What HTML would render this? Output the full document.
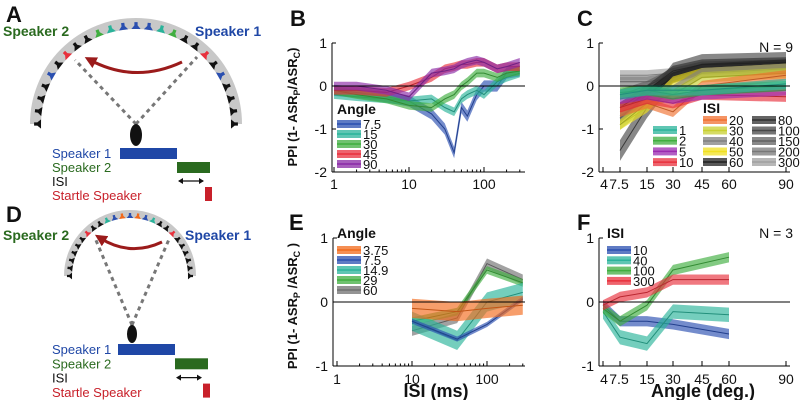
<!DOCTYPE html>
<html><head><meta charset="utf-8">
<style>
html,body{margin:0;padding:0;background:#fff;}
svg{display:block;font-family:"Liberation Sans","DejaVu Sans",sans-serif;}
</style></head>
<body>
<svg id="fig" width="800" height="400" viewBox="0 0 800 400" xmlns="http://www.w3.org/2000/svg">
<defs><marker id="ah" viewBox="0 0 10 10" refX="5" refY="5" markerWidth="4" markerHeight="4" orient="auto-start-reverse"><path d="M0,0 L10,5 L0,10 z" fill="#9b1b1b"/></marker></defs>
</svg>
<script>
// ---------- DATA ----------
const isiB = [1,2,5,10,20,30,40,50,60,80,100,150,200,300];
const angB = ["7.5","15","30","45","90"];
const b75 = [-0.1,-0.15,-0.25,-0.35,-0.65,-1.0,-1.55,-0.5,-0.7,-0.2,0.0,0.0,0.3,0.35];
const b15 = [-0.2,-0.25,-0.3,-0.35,-0.3,-0.5,-0.6,-0.3,-0.2,-0.1,-0.2,0.1,0.2,0.3];
const b30 = [-0.1,-0.2,-0.3,-0.45,-0.5,-0.3,-0.2,0.0,0.1,0.3,0.3,0.2,0.3,0.35];
const b45 = [-0.1,-0.1,-0.15,0.0,0.2,0.4,0.45,0.5,0.5,0.55,0.55,0.4,0.45,0.45];
const b90 = [0.0,0.0,-0.1,-0.25,0.3,0.35,0.4,0.5,0.55,0.6,0.55,0.4,0.45,0.55];
const errB = 0.1;

const angC = [7.5,15,30,45,90];
const isiC = ["1","2","5","10","20","30","40","50","60","80","100","150","200","300"];
const c1=[-0.2,-0.1,-0.1,-0.1,0.05], c2=[-0.15,-0.1,-0.2,-0.1,0], c5=[-0.3,-0.2,-0.3,-0.2,-0.1], c10=[-0.5,-0.3,-0.4,-0.2,-0.25];
const c20=[-0.6,-0.4,-0.6,0.0,0.25], c30=[-0.9,-0.4,-0.2,0.2,0.3], c40=[-0.7,-0.3,-0.1,0.3,0.4], c50=[-0.9,-0.5,0.1,0.3,0.4];
const c60=[-0.75,-0.2,0.2,0.4,0.5], c80=[-0.5,-0.1,0.35,0.5,0.55], c100=[-1.5,-0.5,0.3,0.5,0.55], c150=[-0.2,0.0,0.3,0.45,0.5];
const c200=[0.1,0.1,0.2,0.4,0.45], c300=[0.25,0.25,0.3,0.45,0.5];
const errC = 0.12;

const isiE = [10,40,100,300];
const angE = ["3.75","7.5","14.9","29","60"];
const e375=[-0.1,-0.15,-0.1,-0.05], e75=[-0.3,-0.58,-0.35,0.05], e149=[-0.3,-0.6,0.0,0.15], e29=[-0.3,-0.15,0.5,0.3], e60=[-0.45,-0.25,0.6,0.35];
const errE = [0.15,0.04,0.15,0.06,0.08];

const angF = [4,7.5,15,30,60];
const isiF = ["10","40","100","300"];
const f10=[-0.05,-0.3,-0.3,-0.35,-0.5], f40=[-0.15,-0.55,-0.65,-0.15,-0.2], f100=[-0.1,-0.3,-0.05,0.5,0.7], f300=[-0.05,0.08,0.15,0.35,0.35];
const errF = 0.08;

const angTicks = [4,7.5,15,30,45,60,90];
const angTickLabels = ["4","7.5","15","30","45","60","90"];

// ---------- helpers ----------
const NS="http://www.w3.org/2000/svg";
const svg=document.getElementById('fig');
function el(tag, parent){const e=document.createElementNS(NS,tag);(parent||svg).appendChild(e);return e;}
function txt(parent,x,y,s,size,opts){const t=el('text',parent);t.setAttribute('x',x);t.setAttribute('y',y);t.setAttribute('font-size',size);
 if(opts&&opts.bold)t.setAttribute('font-weight','bold'); if(opts&&opts.anchor)t.setAttribute('text-anchor',opts.anchor);
 t.setAttribute('fill',(opts&&opts.fill)||'#111'); t.textContent=s; return t;}
function logAx(x0,perDec){return v=>x0+Math.log10(v)*perDec;}
const angPx=[603,620,647,673,702,729,786];
function angAx(v){for(let i=0;i<angTicks.length-1;i++){if(v<=angTicks[i+1]){const a=angTicks[i],b=angTicks[i+1];return angPx[i]+(v-a)/(b-a)*(angPx[i+1]-angPx[i]);}}return angPx[angPx.length-1];}
function linY(y0,per){return v=>y0-v*per;}

function series(g,xs,ys,err,X,Y,color,name){
  const gg=el('g',g);
  
  
  const up=xs.map((x,i)=>X(x)+','+Y(ys[i]+err)), lo=xs.map((x,i)=>X(x)+','+Y(ys[i]-err)).reverse();
  const p=el('polygon',gg);
  
  
  p.setAttribute('points',up.concat(lo).join(' '));p.setAttribute('fill',color);p.setAttribute('fill-opacity','0.65');
  const l=el('polyline',gg);
  
  
  l.setAttribute('points',xs.map((x,i)=>X(x)+','+Y(ys[i])).join(' '));l.setAttribute('fill','none');l.setAttribute('stroke',color);l.setAttribute('stroke-width','1');
  l.setAttribute('style','filter:brightness(0.8)');
}
function line(g,x1,y1,x2,y2,c,w){const l=el('line',g);l.setAttribute('x1',x1);l.setAttribute('y1',y1);l.setAttribute('x2',x2);l.setAttribute('y2',y2);l.setAttribute('stroke',c||'#000');l.setAttribute('stroke-width',w||1);return l;}
function legend(g,x,y,color,label){
  const r=el('rect',g);
  
  
  r.setAttribute('x',x);r.setAttribute('y',y-4);r.setAttribute('width',24);r.setAttribute('height',8);r.setAttribute('fill',color);r.setAttribute('fill-opacity','0.75');
  line(g,x,y,x+24,y,color,1.5);
  const t=txt(g,x+26,y+5,label,13);
  
  
}
function yAxis(g,x,Y,vals){
  line(g,x,Y(vals[vals.length-1]),x,Y(vals[0]));
  vals.forEach(v=>{line(g,x,Y(v),x+4,Y(v));txt(g,x-5,Y(v)+5,String(v),14,{anchor:'end'});});
}
function yTitle(g,cx,cy,name,sp){
  const yt=txt(g,0,0,'',13,{bold:true});yt.setAttribute('transform',`translate(${cx},${cy}) rotate(-90)`);yt.setAttribute('text-anchor','middle');
  
  
  yt.innerHTML='PPI (1- ASR<tspan font-size="9" dy="3">P</tspan><tspan dy="-3">'+sp+'/ASR</tspan><tspan font-size="9" dy="3">C</tspan><tspan dy="-3">'+sp+')</tspan>';
}

const BLUE='#2a4fb0',TEAL='#2ab39a',GREEN='#3fae3f',RED='#e8303c',PURPLE='#8a2aa6',ORANGE='#f26a1b',GRAY='#707070';

// ---------- Panel B ----------
(function(){
const g=el('g');


const X=logAx(334,75), Y=linY(86,43);
const pd=[[b75,BLUE,'7.5'],[b15,TEAL,'15'],[b30,GREEN,'30'],[b45,RED,'45'],[b90,PURPLE,'90']];
pd.forEach((d,i)=>series(g,isiB,d[0],errB*(i==0?1.3:1),X,Y,d[1],'series-angle-'+d[2]));
line(g,332,Y(0),525,Y(0));
yAxis(g,332,Y,[1,0,-1,-2]);
line(g,332,172,525,172);
[1,10,100].forEach(v=>{line(g,X(v),172,X(v),167);txt(g,X(v),189,String(v),14,{anchor:'middle'});});
for(let d=1;d<=100;d*=10)for(let k=2;k<=9;k++){const v=d*k;if(v<=300)line(g,X(v),172,X(v),169.5);}
const lt=txt(g,337,114,'Angle',14,{bold:true});


pd.forEach((d,i)=>legend(g,337,124+i*10,d[1],angB[i]));
txt(g,290,26,'B',22,{bold:true});
yTitle(g,297,107,'y-axis-title-b','');
})();

// ---------- Panel C ----------
(function(){
const g=el('g');


const Y=linY(86,43);
const cols=[TEAL,GREEN,'#9a2ab0',RED,'#f07030','#c8d030','#808080','#f0e020','#202020','#303030','#484848','#606060','#787878','#a0a0a0'];
const vals=[c1,c2,c5,c10,c20,c30,c40,c50,c60,c80,c100,c150,c200,c300];
const order=[13,12,11,10,9,8,7,6,5,4,3,2,1,0];
order.forEach(i=>series(g,angC,vals[i],errC*(i==10?2:1),angAx,Y,cols[i],'series-isi-'+isiC[i]));
line(g,599,Y(0),790,Y(0));
yAxis(g,599,Y,[1,0,-1,-2]);
line(g,599,172,790,172);
angTicks.forEach(v=>{line(g,angAx(v),172,angAx(v),167);});
txt(g,604,189,'4',14,{anchor:'middle'});txt(g,619,189,'7.5',14,{anchor:'middle'});
[15,30,45,60,90].forEach(v=>txt(g,angAx(v),189,String(v),14,{anchor:'middle'}));
txt(g,703,113,'ISI',14,{bold:true});
for(let i=0;i<4;i++)legend(g,653,130+i*10.7,cols[i],isiC[i]);
for(let i=4;i<9;i++)legend(g,703,120+(i-4)*10.5,cols[i],isiC[i]);
for(let i=9;i<14;i++)legend(g,752,120+(i-9)*10.5,cols[i],isiC[i]);
const n=txt(g,793,52,'N = 9',14,{anchor:'end'});


txt(g,577,26,'C',22,{bold:true});
})();

// ---------- Panel E ----------
(function(){
const g=el('g');


const X=logAx(337,75), Y=linY(302,64);
const pd=[[e60,GRAY],[e29,GREEN],[e149,TEAL],[e75,BLUE],[e375,ORANGE]];
const nm=['60','29','14.9','7.5','3.75'];
pd.forEach((d,i)=>series(g,isiE,d[0],errE[4-i],X,Y,d[1],'series-angle-'+nm[i]));
line(g,333,Y(0),525,Y(0));
yAxis(g,333,Y,[1,0,-1]);
line(g,333,366,525,366);
[1,10,100].forEach(v=>{line(g,X(v),366,X(v),361);txt(g,X(v),384,String(v),14,{anchor:'middle'});});
for(let d=1;d<=100;d*=10)for(let k=2;k<=9;k++){const v=d*k;if(v<=300)line(g,X(v),366,X(v),363.5);}
txt(g,337,238,'Angle',14,{bold:true});
const lc=[ORANGE,BLUE,TEAL,GREEN,GRAY];
lc.forEach((c,i)=>legend(g,337,250+i*10,c,angE[i]));
txt(g,289,230,'E',22,{bold:true});
yTitle(g,297,306,'y-axis-title-e',' ');
const xt=txt(g,436,397,'ISI (ms)',18,{bold:true,anchor:'middle'});


})();

// ---------- Panel F ----------
(function(){
const g=el('g');


const Y=linY(302,64);
const pd=[[f10,BLUE],[f40,TEAL],[f100,GREEN],[f300,RED]];
pd.forEach((d,i)=>series(g,angF,d[0],errF*(i==1?1.4:1),angAx,Y,d[1],'series-isi-'+isiF[i]));
line(g,599,Y(0),790,Y(0));
yAxis(g,599,Y,[1,0,-1]);
line(g,599,366,790,366);
angTicks.forEach(v=>line(g,angAx(v),366,angAx(v),361));
txt(g,604,384,'4',14,{anchor:'middle'});txt(g,619,384,'7.5',14,{anchor:'middle'});
[15,30,45,60,90].forEach(v=>txt(g,angAx(v),384,String(v),14,{anchor:'middle'}));
txt(g,607,238,'ISI',14,{bold:true});
pd.forEach((d,i)=>legend(g,607,250+i*10.3,d[1],isiF[i]));
const n=txt(g,793,238,'N = 3',14,{anchor:'end'});


txt(g,577,230,'F',22,{bold:true});
const xt=txt(g,703,397,'Angle (deg.)',18,{bold:true,anchor:'middle'});


})();

// ---------- Diagrams A & D ----------
function diagram(name,letter,ly,cx,cy,R,th,mouse,s2,s1,tl,timing,spk,dotEnds,arrow){
  const g=el('g');
  
  
  txt(g,6,ly,letter,22,{bold:true});
  const arc=el('path',g);
  
  
  const rm=R-th/2;
  arc.setAttribute('d',`M${cx-rm},${cy} A${rm},${rm} 0 0 1 ${cx+rm},${cy}`);
  arc.setAttribute('fill','none');arc.setAttribute('stroke','#c8c8c8');arc.setAttribute('stroke-width',th);
  for(let k=-12;k<=12;k++){
    const a=(90-k*7.5)*Math.PI/180, r=R-th*0.75;
    const px=cx+r*Math.cos(a), py=cy-r*Math.sin(a);
    const c=spk(Math.abs(k))||'#111';
    const t=el('path',g);
    
    
    const s=th*0.42;
    t.setAttribute('d',`M${-s},${s*0.6} L${s},${s*0.6} L${s*0.35},${-s*0.2} L${s*0.35},${-s*0.9} L${-s*0.35},${-s*0.9} L${-s*0.35},${-s*0.2} Z`);
    t.setAttribute('transform',`translate(${px},${py}) rotate(${k*7.5})`);
    t.setAttribute('fill',c);
  }
  dotEnds.forEach(p=>{const l=line(g,mouse[0],mouse[1]-mouse[3],p[0],p[1],'#777',3);l.setAttribute('stroke-dasharray','4 4');});
  const ar=el('path',g);
  
  
  ar.setAttribute('d',arrow);ar.setAttribute('fill','none');ar.setAttribute('stroke','#9b1b1b');ar.setAttribute('stroke-width',3);
  ar.setAttribute('marker-end','url(#ah)');
  const m=el('ellipse',g);
  
  
  m.setAttribute('cx',mouse[0]);m.setAttribute('cy',mouse[1]);m.setAttribute('rx',mouse[2]);m.setAttribute('ry',mouse[3]);m.setAttribute('fill','#111');
  txt(g,3,s2[1],'Speaker 2',14,{bold:true,fill:'#2a6a1f'});
  txt(g,s1[0],s1[1],'Speaker 1',14,{bold:true,fill:'#1f47a6'});
  const [x0,y0,dy]=tl;
  txt(g,x0,y0,'Speaker 1',13,{fill:'#1f47a6'});
  txt(g,x0,y0+dy,'Speaker 2',13,{fill:'#2a6a1f'});
  txt(g,x0,y0+2*dy,'ISI',13,{fill:'#111'});
  txt(g,x0,y0+3*dy,'Startle Speaker',13,{fill:'#c8202a'});
  const [bx,bm,be,rx]=timing;
  const r1=el('rect',g);r1.setAttribute('x',bx);r1.setAttribute('y',y0-10);r1.setAttribute('width',bm-bx);r1.setAttribute('height',11);r1.setAttribute('fill','#1f47a6');
  
  const r2=el('rect',g);r2.setAttribute('x',bm);r2.setAttribute('y',y0+dy-10);r2.setAttribute('width',be-bm);r2.setAttribute('height',11);r2.setAttribute('fill','#2a6a1f');
  
  line(g,bm+2,y0+2*dy-5,rx-2,y0+2*dy-5,'#111',1.2);
  const h1=el('path',g);h1.setAttribute('d',`M${bm+1},${y0+2*dy-5} l5,-3 l0,6 z M${rx-1},${y0+2*dy-5} l-5,-3 l0,6 z`);h1.setAttribute('fill','#111');
  
  const r3=el('rect',g);r3.setAttribute('x',rx);r3.setAttribute('y',y0+2*dy+1);r3.setAttribute('width',7);r3.setAttribute('height',14);r3.setAttribute('fill','#c8202a');
  
}
const spkA=k=>({0:BLUE,1:BLUE,2:TEAL,3:GREEN,6:RED,8:BLUE})[k];
const spkD=k=>({0:BLUE,1:ORANGE,2:BLUE,3:TEAL,6:RED})[k];
diagram('panel-a','A',22,136,124,106,11,[136,135,6,11],[3,36],[195,36],[52,158,14],[120,177,210,205],spkA,[[75,60],[197,57]],'M182,62 Q135,84 90,60');
diagram('panel-d','D',222,130,276,66,8,[132,334,5,9],[3,240],[185,240],[52,354,14.3],[118,175,208,203],spkD,[[95,238],[170,237]],'M162,242 Q130,257 100,238');
</script>
</body></html>
